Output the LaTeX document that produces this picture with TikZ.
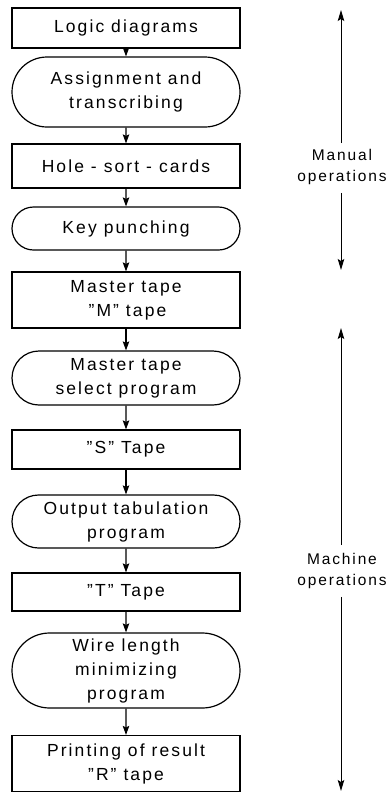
\documentclass[tikz,border=0pt]{standalone}
\usepackage{fontspec}
\setmainfont{Liberation Sans}[LetterSpace=12]
\usetikzlibrary{arrows.meta,shapes.misc}
\tikzset{
  flowbox/.style={draw, line width=1.2pt, rectangle, minimum width=228pt,
    inner sep=0pt, align=center, font=\fontsize{17.5}{24}\selectfont},
  flowstad/.style={flowbox, rounded rectangle, rounded rectangle arc length=180},
  flowarrow/.style={-{Stealth[length=9pt,width=6.5pt,inset=1.5pt]}, line width=1.1pt},
  sidelabel/.style={align=center, inner sep=0pt, font=\fontsize{15.5}{21}\selectfont},
  sidearrow/.style={-{Stealth[length=11pt,width=6.5pt,inset=2pt]}, line width=1pt}
}
\begin{document}
\begin{tikzpicture}[x=1pt,y=-1pt]
\useasboundingbox (0,0) rectangle (388,793);

% process chain
\node[flowbox,  minimum height=40pt] (logic)  at (126,28)    {Logic diagrams};
\node[flowstad, minimum height=70pt] (assign) at (126,92)    {Assignment and\\transcribing};
\node[flowbox,  minimum height=44pt] (hole)   at (126,166)   {Hole - sort - cards};
\node[flowstad, minimum height=43pt] (key)    at (126,228.5) {Key punching};
\node[flowbox,  minimum height=56pt] (mtape)  at (126,300)   {Master tape\\\,"M" tape};
\node[flowstad, minimum height=54pt] (msel)   at (126,378)   {Master tape\\select program};
\node[flowbox,  minimum height=39pt] (stape)  at (126,449.5) {"S" Tape};
\node[flowstad, minimum height=53pt] (otab)   at (126,521.5) {Output tabulation\\program};
\node[flowbox,  minimum height=38pt] (ttape)  at (126,592)   {"T" Tape};
\node[flowstad, minimum height=75pt] (wire)   at (126,670.5) {Wire length\\minimizing\\program};
\node[flowbox,  minimum height=56pt] (print)  at (126,763.5) {Printing of result\\"R" tape};

\draw[flowarrow] (logic)  -- (assign);
\draw[flowarrow] (assign) -- (hole);
\draw[flowarrow] (hole)   -- (key);
\draw[flowarrow] (key)    -- (mtape);
\draw[flowarrow] (mtape)  -- (msel);
\draw[flowarrow] (msel)   -- (stape);
\draw[flowarrow] (stape)  -- (otab);
\draw[flowarrow] (otab)   -- (ttape);
\draw[flowarrow] (ttape)  -- (wire);
\draw[flowarrow] (wire)   -- (print);

% side ranges
\node[sidelabel] (manual)  at (342,167) {Manual\\operations};
\node[sidelabel] (machine) at (342,571) {Machine\\operations};
\coordinate (mantop) at (341,10);
\coordinate (manbot) at (341,270);
\coordinate (mactop) at (341,328);
\coordinate (macbot) at (341,791);
\draw[sidearrow] (manual.north -| mantop) ++(0,-6) -- (mantop);
\draw[sidearrow] (manual.south -| manbot) ++(0,8) -- (manbot);
\draw[sidearrow] (machine.north -| mactop) ++(0,-8) -- (mactop);
\draw[sidearrow] (machine.south -| macbot) ++(0,8) -- (macbot);
\end{tikzpicture}
\end{document}
